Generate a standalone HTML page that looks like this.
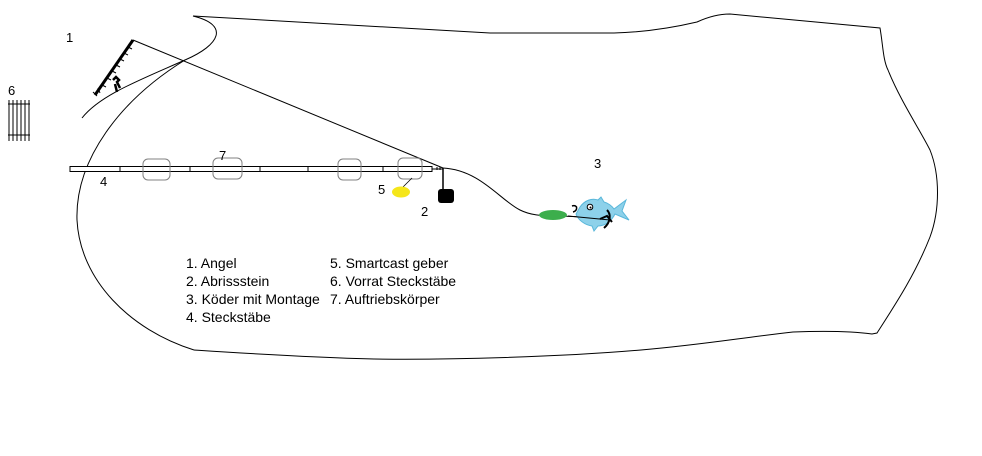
<!DOCTYPE html>
<html><head><meta charset="utf-8"><style>
html,body{margin:0;padding:0;background:#fff;}
svg{display:block}
text{font-family:"Liberation Sans",sans-serif;font-size:13px;fill:#000}
.lg{font-size:14px}
</style></head><body>
<svg width="982" height="456" viewBox="0 0 982 456" xmlns="http://www.w3.org/2000/svg">
<g fill="none" stroke="#000" stroke-width="1">
<!-- lake outline -->
<path d="M193,16 L490,33 L614,33 C650,32 680,26 697,22 C710,16 720,14 730,14 L880,28 C883,45 883,60 888,70 C900,100 920,130 930,150 C940,175 940,210 930,237 C915,275 895,305 877,333 L872,334 C850,331 820,331 793,332 C740,338 700,345 641,350 C560,357 450,360 374,359 C300,357 240,353 194,350"/>
<path d="M193,16 C230,25 220,45 185,60 C140,80 100,95 82,118"/>
<path d="M185,60 C120,100 75,160 77,220 C80,280 130,330 194,350"/>
<!-- line from rod tip to weight -->
<path d="M133,40 L443,168"/>
<!-- line to bait -->
<path d="M443,168 C480,170 500,200 520,210 C530,215 540,216 560,216 L608,218"/>
</g>
<!-- rod -->
<path d="M133,40 L95,95" stroke="#000" stroke-width="3"/>
<g stroke="#000" stroke-width="1">
<path d="M128,47 l4,2 M124,53 l4,2 M120,59 l4,2 M116,65 l4,2 M112,71 l4,2 M107,78 l4,2 M102,85 l4,2"/>
<path d="M93,92 l4,4 M98,88 l2,5"/>
</g>
<path d="M113,80 l3,-3 l3,3 l-2,2 l3,6 M115,84 l2,8" stroke="#000" stroke-width="2.5" fill="none"/>
<!-- sticks storage -->
<g stroke="#000" stroke-width="1">
<path d="M9,100 V141 M13,100 V141 M17,100 V141 M21,100 V141 M25,100 V141 M29,100 V141"/>
<path d="M8,104 H30 M8,135 H30"/>
</g>
<!-- steckstaebe -->
<rect x="70" y="166.5" width="362" height="5" fill="#fff" stroke="#000"/>
<g stroke="#000"><path d="M120,166 V172 M190,166 V172 M260,166 V172 M308,166 V172 M383,166 V172"/></g>
<path d="M432,169 L443,169 M437,167 v3 M440,167 v3" stroke="#000"/>
<path d="M443,168 V190" stroke="#000" stroke-width="1.5"/>
<rect x="438" y="189" width="16" height="14" rx="3" fill="#000"/>
<!-- floats -->
<g fill="none" stroke="#808080" stroke-width="1">
<rect x="143" y="159" width="27" height="21" rx="5"/>
<rect x="213" y="158" width="29" height="21" rx="5"/>
<rect x="338" y="159" width="23" height="21" rx="5"/>
<rect x="398" y="158" width="24" height="21" rx="5"/>
</g>
<!-- smartcast -->
<path d="M412,178 L403,187" stroke="#000" stroke-width="0.8"/>
<ellipse cx="401" cy="192" rx="9" ry="5.5" fill="#f5e61a"/>
<!-- bait -->
<ellipse cx="553" cy="215" rx="14" ry="5" fill="#3cae4c"/>
<path d="M580,207 C585,200 592,198 598,200 L601,197 L604,202 C608,203 612,206 614,209 L626,200 L622,211 L629,220 L615,214 C612,220 606,226 598,226 L594,231 L592,226 C585,225 578,220 576,214 Z" fill="#8dd1ea" stroke="#59b7da" stroke-width="1"/>
<circle cx="590" cy="207" r="2.8" fill="#fff" stroke="#000" stroke-width="1"/>
<circle cx="590.5" cy="207.5" r="1" fill="#000"/>
<path d="M572,206 c6,-2 6,5 1,6" fill="none" stroke="#000" stroke-width="1.5"/>
<path d="M607,210 c4,4 4,12 -3,18 M600,219 l7,-3 l5,6" fill="none" stroke="#000" stroke-width="2"/>
<path d="M568,216 L610,220" stroke="#000" stroke-width="1"/>
<!-- numbers -->
<text x="66" y="42">1</text>
<text x="8" y="95">6</text>
<text x="219" y="160">7</text>
<text x="100" y="186">4</text>
<text x="378" y="194">5</text>
<text x="421" y="216">2</text>
<text x="594" y="168">3</text>
<!-- legend -->
<text class="lg" x="186" y="268">1. Angel</text>
<text class="lg" x="186" y="286">2. Abrissstein</text>
<text class="lg" x="186" y="304">3. Köder mit Montage</text>
<text class="lg" x="186" y="322">4. Steckstäbe</text>
<text class="lg" x="330" y="268">5. Smartcast geber</text>
<text class="lg" x="330" y="286">6. Vorrat Steckstäbe</text>
<text class="lg" x="330" y="304">7. Auftriebskörper</text>
</svg>
</body></html>
